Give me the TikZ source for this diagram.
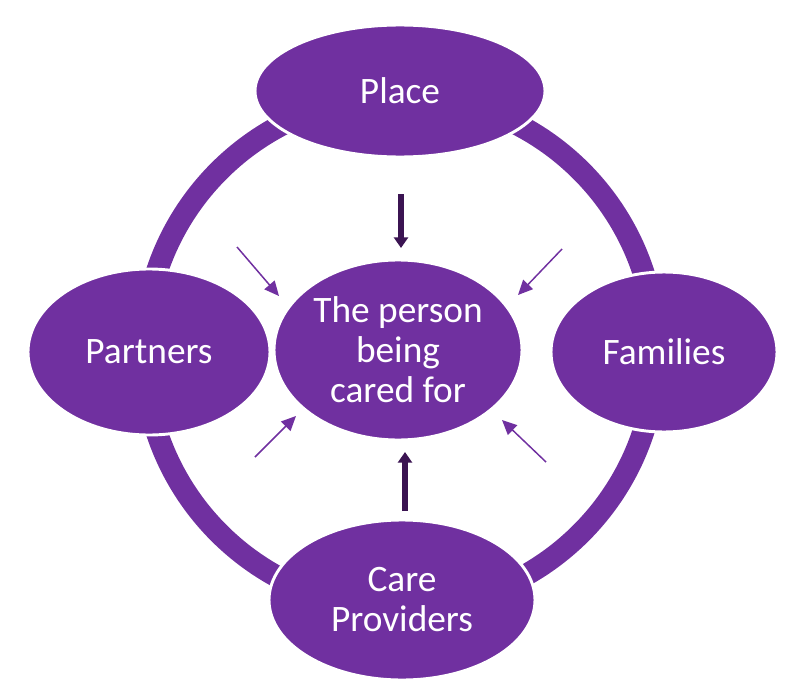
\documentclass[tikz,border=0pt]{standalone}
\usepackage{fontspec}
\setmainfont{Carlito}
\usepackage{xcolor}
\usetikzlibrary{arrows.meta, shapes.geometric}

\definecolor{carepurple}{HTML}{7030A0}
\definecolor{darkpurple}{HTML}{3B1452}

\tikzset{
  blob/.style={ellipse, fill=carepurple, draw=white, line width=2.2pt,
    text=white, inner sep=0pt, align=center,
    font=\fontsize{28}{30}\selectfont},
  pointer/.style={draw=carepurple, line width=1.1pt,
    -{Triangle[width=10pt, length=11pt]}},
  bigpointer/.style={draw=darkpurple, line width=4pt,
    -{Triangle[width=10.5pt, length=8pt]}}
}

\begin{document}
\begin{tikzpicture}[x=0.75pt, y=-0.75pt]
\useasboundingbox (0,0) rectangle (785,685);

% ring behind everything
\coordinate (hub) at (400,352);
\draw[carepurple, line width=16.5pt] (hub) circle [radius=192pt];

% the five ellipses
\node[blob, minimum width=217.5pt, minimum height=99pt] (place) at (400,91) {Place};
\node[blob, minimum width=181.5pt, minimum height=124.5pt] (partners) at (149,352) {Partners};
\node[blob, minimum width=169.5pt, minimum height=120pt] (families) at (664,352) {Families};
\node[blob, minimum width=199.5pt, minimum height=120pt] (providers) at (402,600) {Care\\Providers};
\node[blob, minimum width=186pt, minimum height=135pt] (person) at (398,350) {The person\\being\\cared for};

% arrow ends
\coordinate (top-s) at (401,194);
\coordinate (top-e) at (401,248);
\coordinate (bot-s) at (405,511);
\coordinate (bot-e) at (405,452);
\coordinate (tl-s) at (237,247);
\coordinate (tl-e) at (279,296);
\coordinate (tr-s) at (562,249);
\coordinate (tr-e) at (518,295);
\coordinate (bl-s) at (255,457);
\coordinate (bl-e) at (296,416);
\coordinate (br-s) at (546,462);
\coordinate (br-e) at (502,420);

\draw[bigpointer] (top-s) -- (top-e);
\draw[bigpointer] (bot-s) -- (bot-e);
\draw[pointer] (tl-s) -- (tl-e);
\draw[pointer] (tr-s) -- (tr-e);
\draw[pointer] (bl-s) -- (bl-e);
\draw[pointer] (br-s) -- (br-e);
\end{tikzpicture}
\end{document}
